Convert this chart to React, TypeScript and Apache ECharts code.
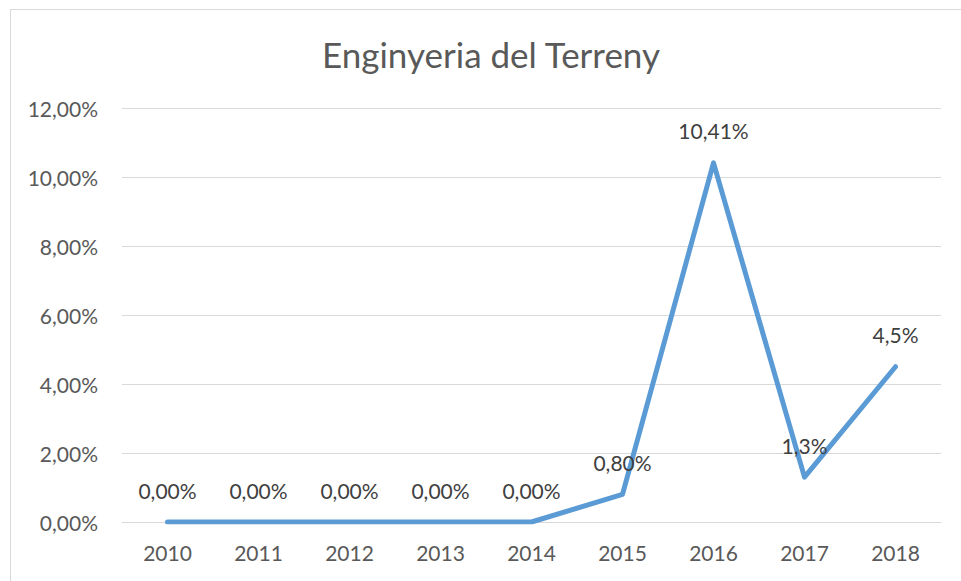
import React, { useEffect, useRef } from "react";
import * as echarts from "echarts";

const TITLE = "Enginyeria del Terreny";
const categories = ["2010", "2011", "2012", "2013", "2014", "2015", "2016", "2017", "2018"];
const values = [0, 0, 0, 0, 0, 0.8, 10.41, 1.3, 4.5];
const valueLabels = ["0,00%", "0,00%", "0,00%", "0,00%", "0,00%", "0,80%", "10,41%", "1,3%", "4,5%"];
const yTicks = { min: 0, max: 12, interval: 2 };

const FONT = "Lato, 'Open Sans', sans-serif";
const TEXT = "#595959";

export default function App() {
  const ref = useRef<HTMLDivElement>(null);
  useEffect(() => {
    if (!ref.current) return;
    const chart = echarts.init(ref.current, undefined, { renderer: "svg" });
    chart.setOption({
      animation: false,
      backgroundColor: "#ffffff",
      textStyle: { fontFamily: FONT },
      title: {
        text: TITLE,
        left: 486,
        top: 31,
        textAlign: "center",
        textStyle: { fontFamily: FONT, fontSize: 35, fontWeight: "normal", color: TEXT },
      },
      graphic: [
        {
          type: "rect",
          shape: { x: 10.5, y: 9.5, width: 1000, height: 1000 },
          style: { fill: "none", stroke: "#d9d9d9", lineWidth: 1 },
          silent: true,
          z: -1,
        },
      ],
      grid: { left: 122, right: 20, top: 108, bottom: 59, containLabel: false },
      xAxis: {
        type: "category",
        data: categories,
        boundaryGap: true,
        axisLine: { show: true, lineStyle: { color: "#d9d9d9", width: 1 } },
        axisTick: { show: false },
        axisLabel: { color: TEXT, fontSize: 21, fontFamily: FONT, margin: 20 },
      },
      yAxis: {
        type: "value",
        min: yTicks.min,
        max: yTicks.max,
        interval: yTicks.interval,
        axisLine: { show: false },
        axisTick: { show: false },
        splitLine: { lineStyle: { color: "#d9d9d9", width: 1 } },
        axisLabel: {
          color: TEXT,
          fontSize: 21,
          fontFamily: FONT,
          margin: 24,
          formatter: (v: number) => v.toFixed(2).replace(".", ",") + "%",
        },
      },
      series: [
        {
          type: "line",
          data: values,
          symbol: "circle",
          symbolSize: 1,
          showSymbol: true,
          lineStyle: { color: "#5B9BD5", width: 5, cap: "round", join: "round" },
          itemStyle: { color: "rgba(0,0,0,0)", borderWidth: 0 },
          label: {
            show: true,
            position: "top",
            distance: 21,
            color: "#404040",
            fontSize: 21,
            fontFamily: FONT,
            formatter: (p: any) => valueLabels[p.dataIndex],
          },
        },
      ],
    });
    return () => chart.dispose();
  }, []);
  return (
    <div
      ref={ref}
      style={{ position: "fixed", left: 0, top: 0, width: 961, height: 581 }}
    />
  );
}
